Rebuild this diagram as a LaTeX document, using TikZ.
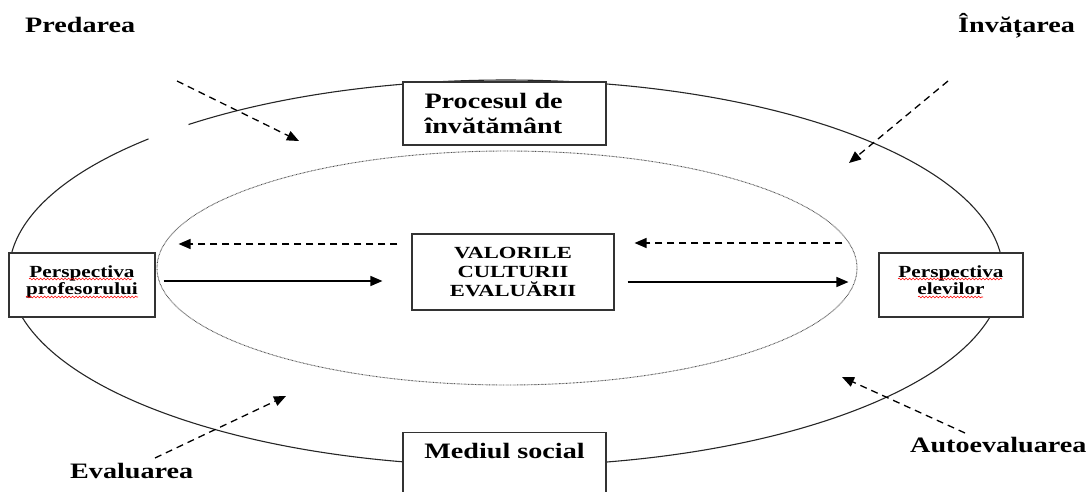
\documentclass[tikz,border=0pt]{standalone}
\usepackage{fontspec}
\setmainfont{Liberation Serif}
\newfontfamily\lblfont[FakeStretch=1.28]{Liberation Serif}
\newfontfamily\capfont[FakeStretch=1.33]{Liberation Serif}
\newfontfamily\perfont[FakeStretch=1.25]{Liberation Serif}
\usetikzlibrary{positioning,arrows.meta,decorations.pathmorphing}

\begin{document}
\begin{tikzpicture}[x=1pt,y=1pt]
\tikzstyle{ring} 	= [draw=black!85, line width=1.1pt] % outer ellipse
\tikzstyle{inring} 	= [draw=black!70, line width=0.9pt, dash pattern=on 0.7pt off 0.7pt] % inner dotted ellipse
\tikzstyle{box} 	= [draw=black!80, fill=white, line width=1.1pt, rectangle, inner sep=3pt]
\tikzstyle{bigtxt} 	= [font=\lblfont\bfseries\fontsize{22}{25}\selectfont]
\tikzstyle{persbox} = [box, font=\perfont\bfseries\fontsize{17}{17}\selectfont, minimum width=146pt, minimum height=64pt, align=center, text depth=10pt]
\tikzstyle{wave} 	= [draw=red, line width=0.6pt, decorate, decoration={snake, amplitude=0.9pt, segment length=3.5pt}] % spell checker marks
\tikzstyle{arrow} 	= [line width=1.3pt, -{Triangle[length=12pt,width=10pt]}] % standard arrow
\tikzstyle{darrow} 	= [arrow, dash pattern=on 7pt off 5pt] % dashed arrow

\useasboundingbox (0,0) rectangle (1090,491);
\clip (0,0) rectangle (1090,491);

% ellipses, the outer one with a small gap top left
\coordinate (O) at (506,218);
\coordinate (I) at (507,223);
\draw[ring] (O) ++(136:497 and 193) arc[start angle=136, end angle=489.7, x radius=497, y radius=193];
\draw[inring] (I) ellipse [x radius=350, y radius=117];

% boxes
\node(PROC)[box, bigtxt, minimum width=203pt, minimum height=63pt, text width=160pt, align=left] at (504.5,377.5){Procesul de\\învătământ};
\node(VAL)[box, font=\capfont\bfseries\fontsize{17}{19.5}\selectfont, minimum width=202pt, minimum height=76pt, align=center] at (513,219){VALORILE\\CULTURII\\EVALUĂRII};
\node(PP)[persbox, left of = VAL, node distance = 431pt, yshift=-13pt]{Perspectiva\\profesorului};
\node(PE)[persbox, minimum width=144pt, right of = VAL, node distance = 438pt, yshift=-13pt]{Perspectiva\\elevilor};
\node(MS)[box, bigtxt, minimum width=203pt, text height=23pt, text depth=60pt, anchor=north] at (504.5,59){Mediul social};

% red wavy underlines
\draw[wave] ([shift={(-53pt,6pt)}]PP.center) -- ([shift={(50pt,6pt)}]PP.center);
\draw[wave] ([shift={(-56pt,-12pt)}]PP.center) -- ([shift={(56pt,-12pt)}]PP.center);
\draw[wave] ([shift={(-53pt,6pt)}]PE.center) -- ([shift={(51pt,6pt)}]PE.center);
\draw[wave] ([shift={(-33pt,-12pt)}]PE.center) -- ([shift={(32pt,-12pt)}]PE.center);

% outside labels
\node(PRED)[bigtxt, anchor=base west, inner sep=0pt] at (25,458){Predarea};
\node(INV)[bigtxt, anchor=base west, inner sep=0pt] at (958,458){Învățarea};
\node(EVAL)[bigtxt, anchor=base west, inner sep=0pt] at (70,13){Evaluarea};
\node(AUTO)[bigtxt, anchor=base west, inner sep=0pt] at (910,39){Autoevaluarea};

% horizontal arrows
\draw[arrow] ([shift={(8pt,4pt)}]PP.east) -- ([shift={(-29pt,-9pt)}]VAL.west);
\draw[darrow] ([shift={(-14pt,28pt)}]VAL.west) -- ([shift={(23pt,41pt)}]PP.east);
\draw[arrow] ([shift={(13pt,-10pt)}]VAL.east) -- ([shift={(-30pt,3pt)}]PE.west);
\draw[darrow] ([shift={(-36pt,42pt)}]PE.west) -- ([shift={(20pt,29pt)}]VAL.east);

% diagonal arrows
\coordinate (predA) at (177,410);
\coordinate (predB) at (299,350);
\coordinate (invA) at (948,410);
\coordinate (invB) at (849,328);
\coordinate (evalA) at (155,33);
\coordinate (evalB) at (286,95);
\coordinate (autoA) at (965,58);
\coordinate (autoB) at (842,114);
\draw[darrow] (predA) -- (predB);
\draw[darrow] (invA) -- (invB);
\draw[darrow] (evalA) -- (evalB);
\draw[darrow] (autoA) -- (autoB);
\end{tikzpicture}
\end{document}
